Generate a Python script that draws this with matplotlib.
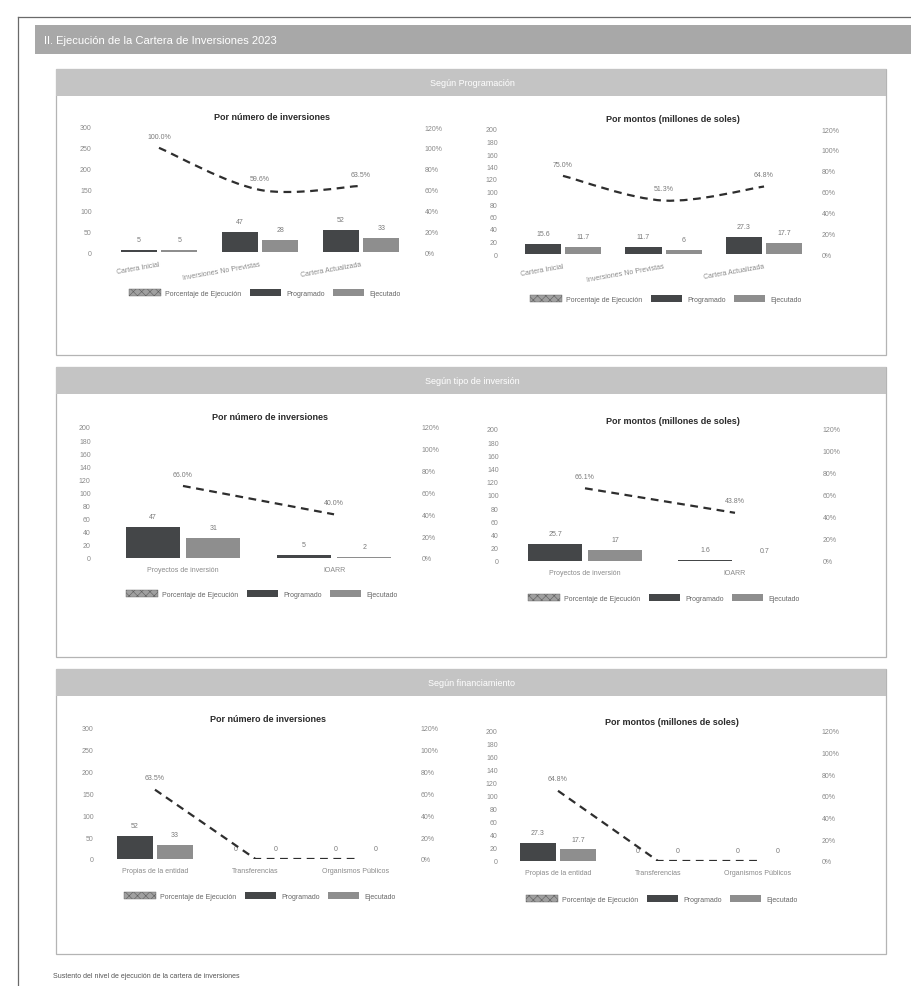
import numpy as np
import matplotlib.pyplot as plt
from matplotlib.patches import Rectangle, Patch, PathPatch
from matplotlib.path import Path

plt.rcParams['font.family'] = ['Liberation Sans', 'DejaVu Sans']
plt.rcParams['hatch.linewidth'] = 0.4

W, H = 911, 987

# Según programación
prog_cats = ["Cartera Inicial", "Inversiones No Previstas", "Cartera Actualizada"]
prog_num_programado = [5, 47, 52]
prog_num_ejecutado = [5, 28, 33]
prog_num_pct = [100.0, 59.6, 63.5]
prog_mon_programado = [15.6, 11.7, 27.3]
prog_mon_ejecutado = [11.7, 6.0, 17.7]
prog_mon_pct = [75.0, 51.3, 64.8]

# Según tipo de inversión
tipo_cats = ["Proyectos de inversión", "IOARR"]
tipo_num_programado = [47, 5]
tipo_num_ejecutado = [31, 2]
tipo_num_pct = [66.0, 40.0]
tipo_mon_programado = [25.7, 1.6]
tipo_mon_ejecutado = [17.0, 0.7]
tipo_mon_pct = [66.1, 43.8]

# Según financiamiento
fin_cats = ["Propias de la entidad", "Transferencias", "Organismos Públicos"]
fin_num_programado = [52, 0, 0]
fin_num_ejecutado = [33, 0, 0]
fin_num_pct = [63.5, 0.0, 0.0]
fin_mon_programado = [27.3, 0, 0]
fin_mon_ejecutado = [17.7, 0, 0]
fin_mon_pct = [64.8, 0.0, 0.0]

PROG = '#444648'
EJE = '#8e8e8e'
LINE = '#2e2e2e'
TICK = '#8a8a8a'
VAL = '#7a7a7a'

fig = plt.figure(figsize=(W / 100, H / 100), dpi=100)


def fbox(x0, y0, x1, y1):
    return [x0 / W, 1 - y1 / H, (x1 - x0) / W, (y1 - y0) / H]


def smooth_path(xs, ys):
    pts = np.column_stack([xs, ys]).astype(float)
    p = np.vstack([pts[0], pts, pts[-1]])
    verts, codes = [pts[0]], [Path.MOVETO]
    for i in range(1, len(pts)):
        p0, p1, p2, p3 = p[i - 1], p[i], p[i + 1], p[i + 2]
        verts += [p1 + (p2 - p0) / 6, p2 - (p3 - p1) / 6, p2]
        codes += [Path.CURVE4] * 3
    return Path(verts, codes)


# page background: frame, headers and section boxes
bg = fig.add_axes([0, 0, 1, 1])
bg.set_xlim(0, W)
bg.set_ylim(H, 0)
bg.axis('off')
bg.plot([18, 911], [18, 18], color='#6a6a6a', lw=0.9)
bg.plot([18, 18], [18, 987], color='#6a6a6a', lw=0.9)
bg.add_patch(Rectangle((35, 26), 876, 29, color='#a8a8a8', lw=0))
bg.text(44, 41, "II. Ejecución de la Cartera de Inversiones 2023", color='white',
        fontsize=8, va='center', ha='left')

sections = [("Según Programación", 70, 356), ("Según tipo de inversión", 368, 658),
            ("Según financiamiento", 670, 955)]
for name, top, bottom in sections:
    bg.add_patch(Rectangle((56, top), 830, bottom - top, fill=False, ec='#b4b4b4', lw=0.9))
    bg.add_patch(Rectangle((56, top), 830, 27, color='#c4c4c4', lw=0))
    bg.text(472, top + 14, name, color='white', fontsize=6.5, ha='center', va='center')

bg.text(53, 977, "Sustento del nivel de ejecución de la cartera de inversiones",
        fontsize=5, color='#555555', va='center')


def chart(box, xlim, title, title_xy, cats, prog, eje, pct, ymax, ystep,
          legend_xy, smooth=False, rotate=False):
    ax = fig.add_axes(fbox(*box))
    x = np.arange(len(cats))
    ax.bar(x - 0.2, prog, 0.36, color=PROG, lw=0, zorder=2)
    ax.bar(x + 0.2, eje, 0.36, color=EJE, lw=0, zorder=2)
    for xs, vals in ((x - 0.2, prog), (x + 0.2, eje)):
        for xi, v in zip(xs, vals):
            ax.annotate(f"{v:g}", (xi, v), xytext=(0, 5), textcoords='offset points',
                        ha='center', va='bottom', fontsize=5, color=VAL)
    ax.set_xlim(xlim)
    ax.set_ylim(0, ymax)
    ax.set_yticks(np.arange(0, ymax + 1, ystep))
    ax.tick_params(axis='y', length=0, labelsize=5, labelcolor=TICK, pad=6)
    ax.set_xticks(x)
    if rotate:
        ax.set_xticklabels(cats, rotation=10, ha='right', rotation_mode='anchor')
    else:
        ax.set_xticklabels(cats)
    ax.tick_params(axis='x', length=0, labelsize=5, labelcolor=TICK, pad=6)
    for s in ax.spines.values():
        s.set_visible(False)

    ax2 = ax.twinx()
    ax2.set_ylim(0, 120)
    ticks = np.arange(0, 121, 20)
    ax2.set_yticks(ticks)
    ax2.set_yticklabels([f"{t}%" for t in ticks])
    ax2.tick_params(axis='y', length=0, labelsize=5, labelcolor=TICK, pad=5)
    for s in ax2.spines.values():
        s.set_visible(False)
    if smooth:
        ax2.add_patch(PathPatch(smooth_path(x, pct), fill=False, ec=LINE, lw=1.6,
                                linestyle=(0, (3.5, 2.5))))
    else:
        ax2.plot(x, pct, color=LINE, lw=1.6, linestyle=(0, (3.5, 2.5)))
    for xi, p in zip(x, pct):
        if p > 0:
            ax2.annotate(f"{p:.1f}%", (xi, p), xytext=(0, 6), textcoords='offset points',
                         ha='center', va='bottom', fontsize=5, color=VAL)

    fig.text(title_xy[0] / W, 1 - title_xy[1] / H, title, fontsize=6.5, fontweight='bold',
             color='#2a2a2a', ha='center', va='center')

    handles = [Patch(fc='#a0a0a0', ec='#5e5e5e', hatch='xxxx', lw=0.3),
               Patch(fc=PROG), Patch(fc=EJE)]
    ax.legend(handles, ["Porcentaje de Ejecución", "Programado", "Ejecutado"],
              loc='center', bbox_to_anchor=(legend_xy[0] / W, 1 - legend_xy[1] / H),
              bbox_transform=fig.transFigure, ncol=3, frameon=False, fontsize=5,
              handlelength=4.5, handleheight=1.1, columnspacing=1.2, handletextpad=0.7,
              labelcolor='#666666')


chart((100, 128, 418, 253), (-0.584, 2.564), "Por número de inversiones", (272, 118),
      prog_cats, prog_num_programado, prog_num_ejecutado, prog_num_pct, 300, 50,
      (265, 294), smooth=True, rotate=True)
chart((506, 130, 815, 255), (-0.567, 2.507), "Por montos (millones de soles)", (673, 120),
      prog_cats, prog_mon_programado, prog_mon_ejecutado, prog_mon_pct, 200, 20,
      (666, 300), smooth=True, rotate=True)
chart((99, 428, 415, 559), (-0.556, 1.536), "Por número de inversiones", (270, 418),
      tipo_cats, tipo_num_programado, tipo_num_ejecutado, tipo_num_pct, 200, 20,
      (262, 595))
chart((507, 430, 816, 562), (-0.52, 1.54), "Por montos (millones de soles)", (673, 422),
      tipo_cats, tipo_mon_programado, tipo_mon_ejecutado, tipo_mon_pct, 200, 20,
      (664, 599))
chart((102, 729, 414, 860), (-0.527, 2.577), "Por número de inversiones", (268, 720),
      fin_cats, fin_num_programado, fin_num_ejecutado, fin_num_pct, 300, 50,
      (260, 897))
chart((506, 732, 815, 862), (-0.52, 2.57), "Por montos (millones de soles)", (672, 723),
      fin_cats, fin_mon_programado, fin_mon_ejecutado, fin_mon_pct, 200, 20,
      (662, 900))

fig.savefig('out.png', dpi=100)
